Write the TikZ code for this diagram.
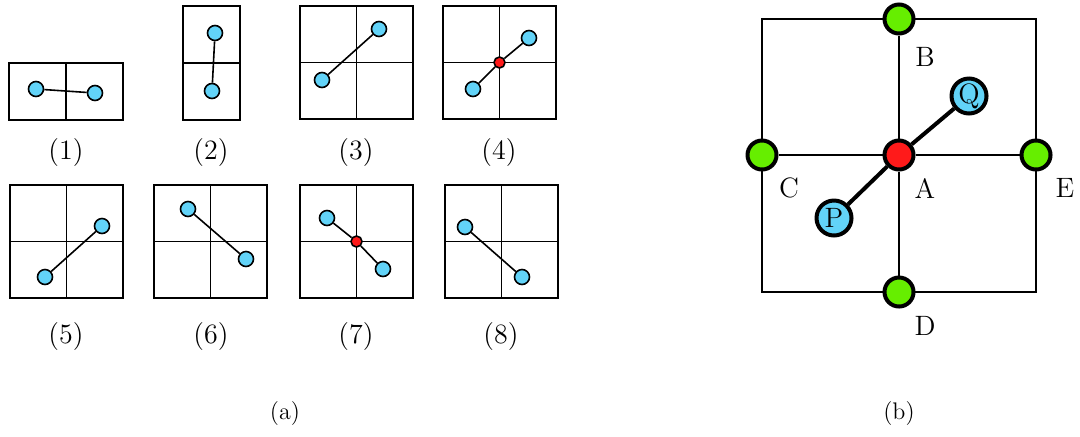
\documentclass[tikz,border=0pt]{standalone}
\usepackage{tikz}
\definecolor{dotblue}{HTML}{62D3F8}
\definecolor{dotgreen}{HTML}{66EE00}
\definecolor{dotred}{HTML}{FF1A1A}
\begin{document}
\begin{tikzpicture}[x=0.5pt,y=-0.5pt,
  gridline/.style={draw,line width=0.6pt},
  sdot/.style={circle,draw,line width=0.8pt,fill=dotblue,minimum size=7.5pt,inner sep=0pt},
  rdot/.style={circle,draw,line width=0.8pt,fill=dotred,minimum size=5.5pt,inner sep=0pt},
  slink/.style={draw,line width=0.8pt},
  caplab/.style={font=\fontsize{14}{17}\selectfont,inner sep=0pt},
  sublab/.style={font=\fontsize{12}{14}\selectfont,inner sep=0pt},
  bgrid/.style={draw,line width=0.8pt},
  gdot/.style={circle,draw,line width=2pt,fill=dotgreen,minimum size=14.5pt,inner sep=0pt},
  bred/.style={circle,draw,line width=2pt,fill=dotred,minimum size=14.5pt,inner sep=0pt},
  bblue/.style={circle,draw,line width=2pt,fill=dotblue,minimum size=17.5pt,inner sep=0pt,font=\fontsize{14}{17}\selectfont},
  blab/.style={font=\fontsize{14}{17}\selectfont,inner sep=0pt},
  blink/.style={draw,line width=2pt}
]
\useasboundingbox (0,0) rectangle (1080,436);
\newcommand\qbox[2]{\draw[gridline] (#1,#2) rectangle ++(113,113) (#1+56.5,#2) -- ++(0,113) (#1,#2+56.5) -- ++(113,0);}
% (1)
\draw[gridline] (9,63) rectangle (123,120) (66,63) -- (66,120);
\node[sdot] (a1) at (36,89) {};
\node[sdot] (b1) at (95,93) {};
\draw[slink] (a1) -- (b1);
\node[caplab] (l1) at (66,153) {(1)};
% (2)
\draw[gridline] (183,6) rectangle (240,120) (183,63) -- (240,63);
\node[sdot] (a2) at (215,33) {};
\node[sdot] (b2) at (212,91) {};
\draw[slink] (a2) -- (b2);
\node[caplab] (l2) at (211,153) {(2)};
% (3)
\qbox{300}{6}
\node[sdot] (a3) at (379,29) {};
\node[sdot] (b3) at (322,80) {};
\draw[slink] (a3) -- (b3);
\node[caplab] (l3) at (356,153) {(3)};
% (4)
\qbox{443}{6}
\node[sdot] (a4) at (529,38) {};
\node[sdot] (b4) at (473,89) {};
\node[rdot] (c4) at (499.5,62.5) {};
\draw[slink] (b4) -- (c4) -- (a4);
\node[caplab] (l4) at (499,153) {(4)};
% (5)
\qbox{10}{185}
\node[sdot] (a5) at (102,226) {};
\node[sdot] (b5) at (45,277) {};
\draw[slink] (a5) -- (b5);
\node[caplab] (l5) at (66,336) {(5)};
% (6)
\qbox{154}{185}
\node[sdot] (a6) at (188,209) {};
\node[sdot] (b6) at (246,259) {};
\draw[slink] (a6) -- (b6);
\node[caplab] (l6) at (211,336) {(6)};
% (7)
\qbox{300}{185}
\node[sdot] (a7) at (327,218) {};
\node[sdot] (b7) at (383,269) {};
\node[rdot] (c7) at (356.5,241.5) {};
\draw[slink] (a7) -- (c7) -- (b7);
\node[caplab] (l7) at (356,336) {(7)};
% (8)
\qbox{445}{185}
\node[sdot] (a8) at (465,227) {};
\node[sdot] (b8) at (522,277) {};
\draw[slink] (a8) -- (b8);
\node[caplab] (l8) at (501,336) {(8)};
\node[sublab] (sa) at (285,413) {(a)};
% (b)
\draw[bgrid] (762,19) rectangle (1036,292);
\node[gdot] (B) at (899,19) {};
\node[gdot] (C) at (762,155) {};
\node[gdot] (E) at (1036,155) {};
\node[gdot] (D) at (899,292) {};
\node[bred] (A) at (899,155) {};
\node[bblue] (Q) at (969,96) {Q};
\node[bblue] (P) at (834,218) {P};
\draw[bgrid] (B) -- (A) -- (D);
\draw[bgrid] (C) -- (A) -- (E);
\draw[blink] (P) -- (A) -- (Q);
\node[blab] (lB) at (925,57) {B};
\node[blab] (lC) at (789,188) {C};
\node[blab] (lA) at (925,188) {A};
\node[blab] (lE) at (1065,188) {E};
\node[blab] (lD) at (925,326) {D};
\node[sublab] (sb) at (899,413) {(b)};
\end{tikzpicture}
\end{document}
